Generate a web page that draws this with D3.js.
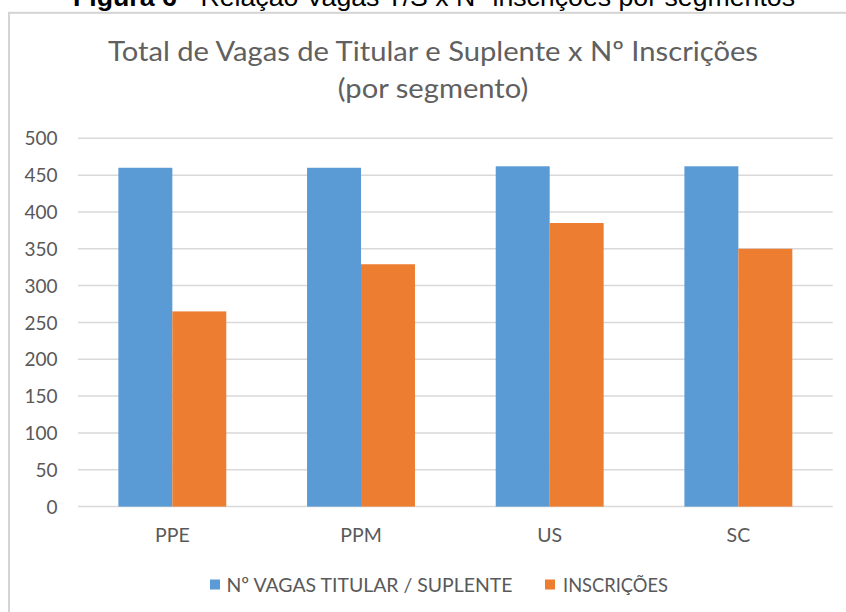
<!DOCTYPE html>
<html>
<head>
<meta charset="utf-8">
<script src="https://cdn.jsdelivr.net/npm/d3@7"></script>
<style>
  html, body { margin: 0; padding: 0; background: #fff; overflow: hidden; }
  svg { display: block; }
</style>
</head>
<body>
<svg id="chart" width="846" height="612"></svg>
<script>
const categories = ["PPE", "PPM", "US", "SC"];
const seriesNames = ["Nº VAGAS TITULAR / SUPLENTE", "INSCRIÇÕES"];
const vagas = [460, 460, 462, 462];
const inscricoes = [265, 329, 385, 350];
const yTicks = [0, 50, 100, 150, 200, 250, 300, 350, 400, 450, 500];
const colors = ["#5B9BD5", "#ED7D31"];
const captionBold = "Figura 6";
const captionRest = " - Relação Vagas T/S x Nº inscrições por segmentos";
const titleLines = ["Total de Vagas de Titular e Suplente x Nº Inscrições", "(por segmento)"];

const svg = d3.select("#chart");
const textColor = "#595959";
const chartFont = "Lato, 'Open Sans', sans-serif";

// Chart frame
svg.append("rect")
  .attr("x", 9).attr("y", 12.8)
  .attr("width", 900).attr("height", 700)
  .attr("fill", "#fff")
  .attr("stroke", "#d4d4d4").attr("stroke-width", 2);

// Caption (cut off at top, as in the source)
const cap = svg.append("text")
  .attr("x", 73).attr("y", 5.5)
  .attr("font-family", "'Liberation Sans', Arial, sans-serif")
  .attr("font-size", 26.5)
  .attr("fill", "#000")
  .attr("textLength", 722)
  .attr("lengthAdjust", "spacingAndGlyphs");
cap.append("tspan").attr("font-weight", "bold").text(captionBold);
cap.append("tspan").text(captionRest);

// Title
const titleG = svg.append("g");
const t1 = titleG.append("text")
  .attr("x", 433).attr("y", 61)
  .attr("text-anchor", "middle")
  .attr("font-family", chartFont)
  .attr("font-size", 27)
  .attr("fill", "#606060")
  .text(titleLines[0]);
const t2 = titleG.append("text")
  .attr("x", 433).attr("y", 98)
  .attr("text-anchor", "middle")
  .attr("font-family", chartFont)
  .attr("font-size", 27)
  .attr("fill", "#606060")
  .text(titleLines[1]);
const nat1 = t1.node().getComputedTextLength();
const nat2 = t2.node().getComputedTextLength();
const k = 650 / nat1;
t1.attr("textLength", 650).attr("lengthAdjust", "spacingAndGlyphs");
t2.attr("textLength", nat2 * k).attr("lengthAdjust", "spacingAndGlyphs");

// Scales
const plotLeft = 78, plotRight = 832.7, plotTop = 138.3, plotBottom = 506.6;
const x0 = d3.scaleBand().domain(categories).range([plotLeft, plotRight]).padding(0);
const groupW = x0.bandwidth() * 0.572;
const x1 = d3.scaleBand().domain(seriesNames).range([0, groupW]).padding(0);
const y = d3.scaleLinear().domain([0, 500]).range([plotBottom, plotTop]);

// Gridlines
svg.append("g").selectAll("line")
  .data(yTicks).join("line")
  .attr("x1", plotLeft).attr("x2", plotRight)
  .attr("y1", d => y(d)).attr("y2", d => y(d))
  .attr("stroke", "#d9d9d9").attr("stroke-width", 1.5);

// Y axis labels
const yAxis = d3.axisLeft(y).tickValues(yTicks).tickSize(0).tickPadding(0);
const yg = svg.append("g").attr("transform", `translate(57.5,0)`).call(yAxis);
yg.select(".domain").remove();
yg.selectAll("text")
  .attr("font-family", chartFont)
  .attr("font-size", 19)
  .attr("fill", textColor)
  .attr("dy", "0.35em");

// Bars
const rows = categories.map((c, i) => ({ cat: c, vals: [vagas[i], inscricoes[i]] }));
const groups = svg.append("g").selectAll("g")
  .data(rows).join("g")
  .attr("transform", d => `translate(${x0(d.cat) + (x0.bandwidth() - groupW) / 2},0)`);
groups.selectAll("rect")
  .data(d => d.vals.map((v, j) => ({ name: seriesNames[j], v, j })))
  .join("rect")
  .attr("x", d => x1(d.name))
  .attr("width", x1.bandwidth())
  .attr("y", d => y(d.v))
  .attr("height", d => y(0) - y(d.v))
  .attr("fill", d => colors[d.j]);

// X axis labels
const xAxis = d3.axisBottom(x0).tickSize(0).tickPadding(0);
const xg = svg.append("g").attr("transform", `translate(0,${plotBottom})`).call(xAxis);
xg.select(".domain").remove();
xg.selectAll("text")
  .attr("font-family", chartFont)
  .attr("font-size", 19.5)
  .attr("fill", textColor)
  .attr("dy", 0)
  .attr("y", 35.5);

// Legend
const legendItems = [
  { name: seriesNames[0], color: colors[0], sx: 210, tx: 226.5, w: 286 },
  { name: seriesNames[1], color: colors[1], sx: 545, tx: 563, w: 105 }
];
const lg = svg.append("g");
legendItems.forEach(it => {
  lg.append("rect").attr("x", it.sx).attr("y", 579.5).attr("width", 10).attr("height", 10).attr("fill", it.color);
  lg.append("text")
    .attr("x", it.tx).attr("y", 591.5)
    .attr("font-family", chartFont)
    .attr("font-size", 20)
    .attr("fill", textColor)
    .attr("textLength", it.w)
    .attr("lengthAdjust", "spacingAndGlyphs")
    .text(it.name);
});
</script>
</body>
</html>
